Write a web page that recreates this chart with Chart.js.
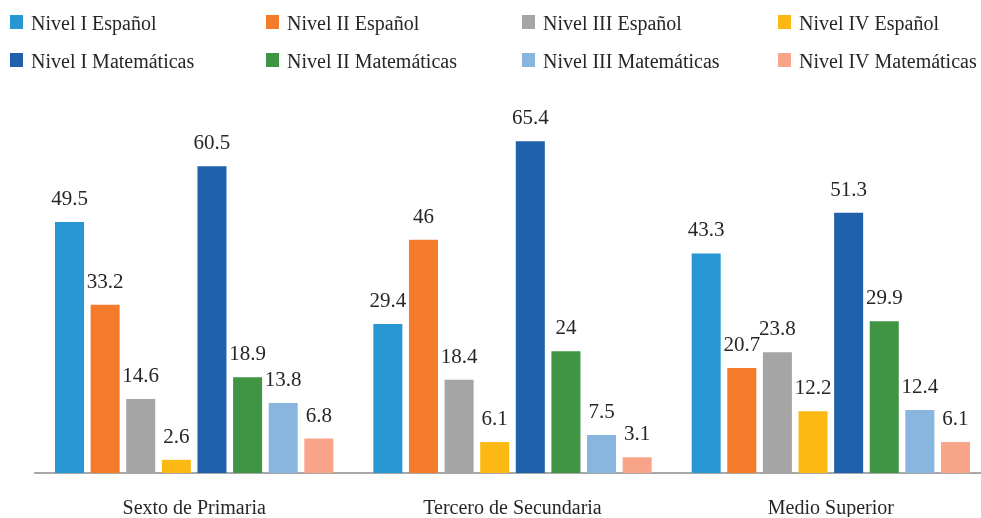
<!DOCTYPE html>
<html>
<head>
<meta charset="utf-8">
<script src="https://cdn.jsdelivr.net/npm/chart.js@4/dist/chart.umd.min.js"></script>
<style>
html,body{margin:0;padding:0;background:#fff;overflow:hidden;}
#wrap{position:relative;width:990px;height:518px;}
</style>
</head>
<body>
<div id="wrap"><canvas id="c" width="990" height="518"></canvas></div>
<script>
const categories = ["Sexto de Primaria", "Tercero de Secundaria", "Medio Superior"];
const seriesNames = ["Nivel I Español", "Nivel II Español", "Nivel III Español", "Nivel IV Español",
                     "Nivel I Matemáticas", "Nivel II Matemáticas", "Nivel III Matemáticas", "Nivel IV Matemáticas"];
const nivelIEspanol = [49.5, 29.4, 43.3];
const nivelIIEspanol = [33.2, 46, 20.7];
const nivelIIIEspanol = [14.6, 18.4, 23.8];
const nivelIVEspanol = [2.6, 6.1, 12.2];
const nivelIMatematicas = [60.5, 65.4, 51.3];
const nivelIIMatematicas = [18.9, 24, 29.9];
const nivelIIIMatematicas = [13.8, 7.5, 12.4];
const nivelIVMatematicas = [6.8, 3.1, 6.1];
const seriesColors = ["#2896d3", "#f47b2c", "#a5a5a5", "#fdb913", "#1f61ab", "#3f9544", "#88b6df", "#f7a488"];

const seriesValues = [nivelIEspanol, nivelIIEspanol, nivelIIIEspanol, nivelIVEspanol,
                      nivelIMatematicas, nivelIIMatematicas, nivelIIIMatematicas, nivelIVMatematicas];

const FONT = "'Liberation Serif', 'Times New Roman', serif";
const TEXT = "#262626";

const valueLabels = {
  id: 'valueLabels',
  afterDatasetsDraw(chart) {
    const ctx = chart.ctx;
    ctx.save();
    ctx.font = "21px " + FONT;
    ctx.fillStyle = TEXT;
    ctx.textAlign = 'center';
    ctx.textBaseline = 'alphabetic';
    chart.data.datasets.forEach((ds, i) => {
      const meta = chart.getDatasetMeta(i);
      meta.data.forEach((bar, j) => {
        ctx.fillText(String(ds.data[j]), bar.x, bar.y - 17);
      });
    });
    ctx.restore();
  }
};

const gridLegend = {
  id: 'gridLegend',
  afterDraw(chart) {
    const ctx = chart.ctx;
    ctx.save();
    ctx.font = "20px " + FONT;
    ctx.textBaseline = 'alphabetic';
    ctx.textAlign = 'left';
    chart.data.datasets.forEach((ds, i) => {
      const col = i % 4, row = Math.floor(i / 4);
      const x = 10 + col * 256;
      const base = 30 + row * 38;
      ctx.fillStyle = ds.backgroundColor;
      ctx.fillRect(x, base - 15, 13, 14);
      ctx.fillStyle = TEXT;
      ctx.fillText(ds.label, x + 21, base);
    });
    ctx.restore();
  }
};

function draw() {
  new Chart(document.getElementById('c'), {
    type: 'bar',
    data: {
      labels: categories,
      datasets: seriesNames.map((name, i) => ({
        label: name,
        data: seriesValues[i],
        backgroundColor: seriesColors[i],
        borderWidth: 0
      }))
    },
    options: {
      responsive: false,
      animation: false,
      devicePixelRatio: 1,
      layout: { padding: { left: 35, right: 0, top: 118, bottom: 1 } },
      plugins: { legend: { display: false }, tooltip: { enabled: false } },
      datasets: { bar: { categoryPercentage: 0.895, barPercentage: 0.815 } },
      scales: {
        x: {
          grid: { display: false },
          border: { display: true, color: '#a8a8a8', width: 2 },
          ticks: { font: { family: FONT, size: 20 }, color: TEXT, padding: 16 },
          afterFit(scale) { scale.height = 44; }
        },
        y: {
          display: false,
          min: 0,
          max: 70
        }
      }
    },
    plugins: [valueLabels, gridLegend]
  });
}
if (document.fonts && document.fonts.load) {
  Promise.all([document.fonts.load("20px 'Liberation Serif'"), document.fonts.load("21px 'Liberation Serif'")])
    .then(draw, draw);
} else { draw(); }
</script>
</body>
</html>
